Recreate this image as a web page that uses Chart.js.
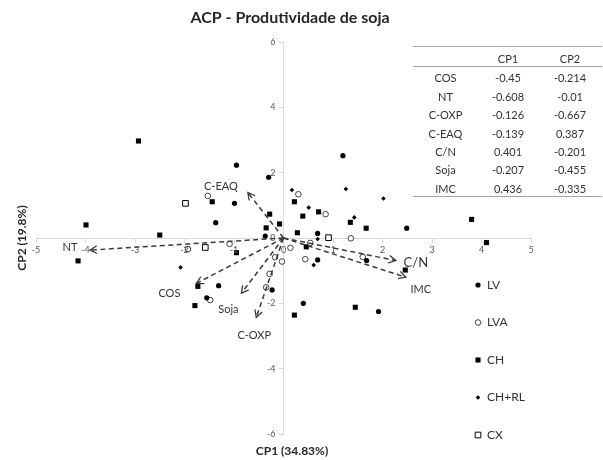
<!DOCTYPE html>
<html>
<head>
<meta charset="utf-8">
<script src="https://cdn.jsdelivr.net/npm/chart.js@4.4.0/dist/chart.umd.min.js"></script>
<style>
  html, body { margin: 0; padding: 0; background: #fff; }
  #wrap { position: relative; width: 603px; height: 460px; }
  #loadings {
    position: absolute; left: 413px; top: 46px; width: 189px;
    border-collapse: collapse; font: 11px Lato, sans-serif; color: #333;
    border-top: 1px solid #a6a6a6; border-bottom: 1px solid #a6a6a6;
  }
  #loadings td, #loadings th {
    padding: 0; height: 18.4px; text-align: center; font-weight: normal;
    line-height: 14px; vertical-align: bottom;
  }
  #loadings thead th { height: 19px; border-bottom: 1px solid #a6a6a6; }
</style>
</head>
<body>
<div id="wrap">
  <canvas id="acpChart" width="603" height="460"></canvas>
  <table id="loadings">
    <colgroup><col style="width:65px"><col style="width:60px"><col style="width:64px"></colgroup>
    <thead><tr><th></th><th>CP1</th><th>CP2</th></tr></thead>
    <tbody></tbody>
  </table>
</div>
<script>
// --- loadings (table + vector names) ---
const varNames    = ['COS', 'NT', 'C-OXP', 'C-EAQ', 'C/N', 'Soja', 'IMC'];
const cp1Loadings = ['-0.45', '-0.608', '-0.126', '-0.139', '0.401', '-0.207', '0.436'];
const cp2Loadings = ['-0.214', '-0.01', '-0.667', '0.387', '-0.201', '-0.455', '-0.335'];

// arrow tips as drawn in the biplot (CP1, CP2)
const vectorTipX = [-1.76, -3.91, -0.55, -0.72, 2.27, -0.85, 2.47];
const vectorTipY = [-1.39, -0.37, -2.43, 1.39, -0.69, -1.69, -1.20];

// --- scores per soil group [CP1, CP2] ---
const lvPoints = [
  [-0.95, 2.23], [-0.30, 1.86], [-0.99, 1.06], [-1.37, 0.47], [-0.37, 0.06],
  [-1.31, -1.46], [-1.55, -1.83], [-0.23, -1.59], [0.40, -2.00], [1.92, -2.25],
  [2.49, 0.30], [1.68, -0.69], [0.69, -0.67], [0.69, 0.14], [1.20, 2.52],
];
const lvaPoints = [
  [-1.53, 1.29], [-1.09, -0.18], [-1.93, -0.34], [0.14, -0.30], [-0.17, -0.59],
  [-0.03, -0.72], [-0.28, -1.10], [-0.35, -1.51], [-1.48, -1.90], [0.44, -0.65],
  [0.54, -0.15], [0.85, 0.73], [1.36, -0.01], [1.60, -0.58], [0.30, 1.34],
];
const chPoints = [
  [-2.93, 2.97], [-3.99, 0.40], [-4.15, -0.70], [-2.50, 0.09], [-1.44, 1.11],
  [-0.28, 0.73], [-0.08, 0.43], [-0.35, 0.31], [0.22, 1.11], [0.39, 0.67],
  [0.71, 0.80], [0.28, 0.16], [-0.95, -0.45], [-1.73, -1.48], [-1.79, -2.07],
  [0.22, -2.36], [1.45, -2.12], [2.46, -0.98], [3.80, 0.57], [4.10, -0.14],
  [1.67, 0.30], [1.35, 0.48], [0.46, -0.27],
];
const chrlPoints = [
  [-2.08, -0.90], [0.17, 1.47], [0.51, 0.93], [1.26, 1.50], [2.02, 1.21],
  [1.43, 0.63], [0.61, -0.83], [0.69, -0.03],
];
const cxPoints = [[-1.98, 1.06], [-1.58, -0.29], [0.91, 0.01]];

const xTicksMin = -5, xTicksMax = 5, xStep = 1;
const yTicksMin = -6, yTicksMax = 6, yStep = 2;

// fill table
const tbody = document.querySelector('#loadings tbody');
varNames.forEach((n, i) => {
  const tr = document.createElement('tr');
  tr.innerHTML = '<td>' + n + '</td><td>' + cp1Loadings[i] + '</td><td>' + cp2Loadings[i] + '</td>';
  tbody.appendChild(tr);
});

const FONT = 'Lato, sans-serif';
const TEXT = '#333';
const toXY = pts => pts.map(p => ({ x: p[0], y: p[1] }));

const groups = [
  { label: 'LV',    data: lvPoints,   pointStyle: 'circle',  radius: 2.6, bg: '#000', border: '#000', bw: 0 },
  { label: 'LVA',   data: lvaPoints,  pointStyle: 'circle',  radius: 2.8, bg: '#fff', border: '#404040', bw: 1 },
  { label: 'CH',    data: chPoints,   pointStyle: 'rect',    radius: 3.6, bg: '#000', border: '#000', bw: 0 },
  { label: 'CH+RL', data: chrlPoints, pointStyle: 'rectRot', radius: 2.3, bg: '#000', border: '#000', bw: 0 },
  { label: 'CX',    data: cxPoints,   pointStyle: 'rect',    radius: 4.0, bg: '#fff', border: '#000', bw: 1 },
];

const scoreSets = groups.map(g => ({
  type: 'scatter',
  label: g.label,
  data: toXY(g.data),
  pointStyle: g.pointStyle,
  pointRadius: g.radius,
  pointBackgroundColor: g.bg,
  pointBorderColor: g.border,
  pointBorderWidth: g.bw,
  order: 2,
}));

const vectorSets = varNames.map((n, i) => ({
  type: 'line',
  label: n,
  data: [{ x: 0, y: 0 }, { x: vectorTipX[i], y: vectorTipY[i] }],
  borderColor: '#3a3a3a',
  borderWidth: 1.5,
  borderDash: [5, 3.5],
  pointRadius: 0,
  fill: false,
  order: 1,
}));

// label offsets (px) from each arrow tip, plus font size
const labelOffsets = {
  'COS': [-27, 10, 11], 'NT': [-20, -3, 11], 'C-OXP': [-2, 18, 11], 'C-EAQ': [-27, -6, 11],
  'C/N': [20, 2, 13], 'Soja': [-13, 16, 11], 'IMC': [15, 12, 11],
};

const biplotExtras = {
  id: 'biplotExtras',
  afterDatasetsDraw(chart) {
    const { ctx, scales: { x, y } } = chart;
    const x0 = x.getPixelForValue(0), y0 = y.getPixelForValue(0);
    ctx.save();

    // tick labels next to the centred axes
    ctx.fillStyle = '#595959';
    ctx.font = '9px ' + FONT;
    ctx.textBaseline = 'middle';
    ctx.textAlign = 'center';
    x.ticks.forEach(t => ctx.fillText(String(t.value), x.getPixelForValue(t.value), y0 + 12));
    ctx.textAlign = 'right';
    y.ticks.forEach(t => ctx.fillText(String(t.value), x0 - 8, y.getPixelForValue(t.value)));

    // arrowheads + vector labels
    varNames.forEach((n, i) => {
      const x1 = x.getPixelForValue(vectorTipX[i]), y1 = y.getPixelForValue(vectorTipY[i]);
      const ang = Math.atan2(y1 - y0, x1 - x0);
      const len = 8, spread = 0.5;
      ctx.strokeStyle = '#3a3a3a';
      ctx.lineWidth = 1.3;
      ctx.setLineDash([]);
      ctx.beginPath();
      ctx.moveTo(x1 - len * Math.cos(ang - spread), y1 - len * Math.sin(ang - spread));
      ctx.lineTo(x1, y1);
      ctx.lineTo(x1 - len * Math.cos(ang + spread), y1 - len * Math.sin(ang + spread));
      ctx.stroke();
      const off = labelOffsets[n];
      ctx.fillStyle = TEXT;
      ctx.font = off[2] + 'px ' + FONT;
      ctx.textAlign = 'center';
      ctx.textBaseline = 'middle';
      ctx.fillText(n, x1 + off[0], y1 + off[1]);
    });

    // legend (inside plot, lower right)
    const helpers = Chart.helpers;
    groups.forEach((g, i) => {
      const lx = 478, ly = 285 + i * 37.5;
      ctx.fillStyle = g.bg;
      ctx.strokeStyle = g.border;
      ctx.lineWidth = g.bw;
      if (helpers && helpers.drawPoint) {
        helpers.drawPoint(ctx, { pointStyle: g.pointStyle, radius: g.radius, rotation: 0, borderWidth: g.bw }, lx, ly);
      }
      ctx.fillStyle = TEXT;
      ctx.font = '12px ' + FONT;
      ctx.textAlign = 'left';
      ctx.textBaseline = 'middle';
      ctx.fillText(g.label, lx + 9, ly);
    });

    // title and axis titles
    ctx.fillStyle = '#262626';
    ctx.textAlign = 'center';
    ctx.textBaseline = 'middle';
    ctx.font = 'bold 16px ' + FONT;
    ctx.fillText('ACP - Produtividade de soja', 290, 18);
    ctx.font = 'bold 12px ' + FONT;
    ctx.fillText('CP1 (34.83%)', 292, 451);
    ctx.translate(22, 238);
    ctx.rotate(-Math.PI / 2);
    ctx.fillText('CP2 (19.8%)', 0, 0);
    ctx.restore();
  },
};

new Chart(document.getElementById('acpChart'), {
  type: 'scatter',
  data: { datasets: [...vectorSets, ...scoreSets] },
  options: {
    responsive: false,
    animation: false,
    layout: { padding: { left: 36, right: 72, top: 42, bottom: 26 } },
    plugins: { legend: { display: false }, tooltip: { enabled: false }, title: { display: false } },
    scales: {
      x: {
        type: 'linear', min: xTicksMin, max: xTicksMax,
        position: { y: 0 },
        afterFit(s) { s.height = 0; },
        ticks: { stepSize: xStep, display: false },
        grid: { drawOnChartArea: false, color: '#d9d9d9', tickLength: 4 },
        border: { color: '#d9d9d9', width: 1 },
      },
      y: {
        type: 'linear', min: yTicksMin, max: yTicksMax,
        position: { x: 0 },
        afterFit(s) { s.width = 0; },
        ticks: { stepSize: yStep, display: false },
        grid: { drawOnChartArea: false, color: '#d9d9d9', tickLength: 4 },
        border: { color: '#d9d9d9', width: 1 },
      },
    },
  },
  plugins: [biplotExtras],
});
</script>
</body>
</html>
